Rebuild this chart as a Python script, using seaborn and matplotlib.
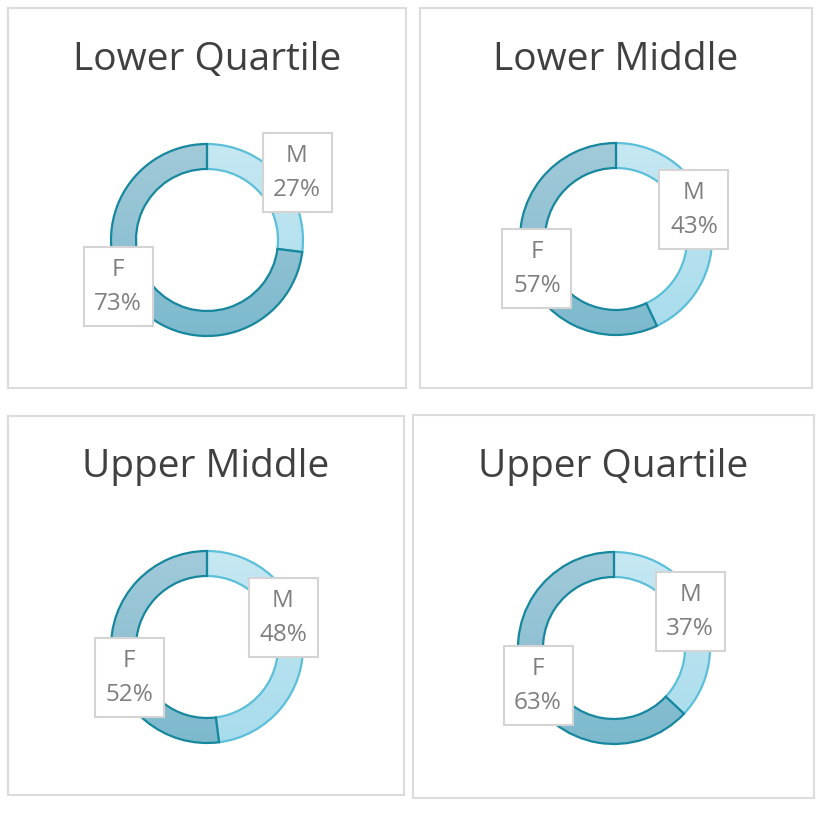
import numpy as np
import seaborn as sns
import matplotlib.pyplot as plt
from matplotlib.patches import Rectangle

# data
titles = ["Lower Quartile", "Lower Middle", "Upper Middle", "Upper Quartile"]
groups = ["M", "F"]
male = [27, 43, 48, 37]
female = [73, 57, 52, 63]

# layout, in pixels of the 825x825 picture
panels = [(8, 8, 406, 388), (420, 8, 812, 388), (8, 416, 404, 795), (413, 415, 814, 798)]
centers = [(207, 240), (616, 239), (207, 647), (614, 648)]
title_y = [60, 60, 467, 467]
# label box centres relative to donut centre (dx, dy down)
m_lab = [(90, -68), (78, -30), (76, -30), (76, -37)]
f_lab = [(-89, 46), (-79, 29), (-78, 30), (-76, 37)]

sns.set_theme(style="white")
plt.rcParams['font.family'] = ['Open Sans', 'DejaVu Sans']

m_cols = ["#c6e8f2", "#a8dcec"]
f_cols = ["#a2cad9", "#7db9cd"]
m_edge = "#5cbfd9"
f_edge = "#17879e"

W = 825
fig = plt.figure(figsize=(8.25, 8.25), dpi=100)

R = 96
width = 25

for i in range(4):
    x0, y0, x1, y1 = panels[i]
    pw, ph = x1 - x0, y1 - y0
    ax = fig.add_axes([x0 / W, (W - y1) / W, pw / W, ph / W])
    cx, cy = centers[i][0] - x0, y1 - centers[i][1]

    wedges, _ = ax.pie([male[i], female[i]], labels=None, startangle=90, counterclock=False,
                       center=(cx, cy), radius=R, frame=True,
                       wedgeprops=dict(width=width, linewidth=1.6))
    for w, cols, ec in zip(wedges, [m_cols, f_cols], [m_edge, f_edge]):
        w.set_facecolor("none")
        w.set_edgecolor(ec)
        w.set_zorder(3)
        grad = np.linspace(0, 1, 256).reshape(-1, 1)
        cmap = sns.blend_palette(cols, as_cmap=True)
        im = ax.imshow(grad, cmap=cmap, extent=(cx - R, cx + R, cy - R, cy + R),
                       origin="upper", aspect="auto", zorder=2)
        im.set_clip_path(w)

    ax.set_xlim(0, pw)
    ax.set_ylim(0, ph)
    ax.set_aspect("equal", adjustable="box")
    ax.set_xticks([])
    ax.set_yticks([])
    for s in ax.spines.values():
        s.set_edgecolor("#dcdcdc")
        s.set_linewidth(1.5)
        s.set_visible(True)

    ax.text(pw / 2, y1 - title_y[i], titles[i], ha="center", va="center",
            fontsize=28, color="#404040")

    for (dx, dy), g, pct in zip([m_lab[i], f_lab[i]], groups, [male[i], female[i]]):
        bx, by = cx + dx, cy - dy
        ax.add_patch(Rectangle((bx - 34.5, by - 39.5), 69, 79, facecolor="white",
                               edgecolor="#d4d4d4", linewidth=1.5, zorder=5))
        ax.text(bx, by + 16, g, ha="center", va="center", fontsize=17.5,
                color="#7f7f7f", zorder=6)
        ax.text(bx, by - 18, f"{pct}%", ha="center", va="center", fontsize=17.5,
                color="#7f7f7f", zorder=6)

fig.savefig("out.png", dpi=100, facecolor="white")
